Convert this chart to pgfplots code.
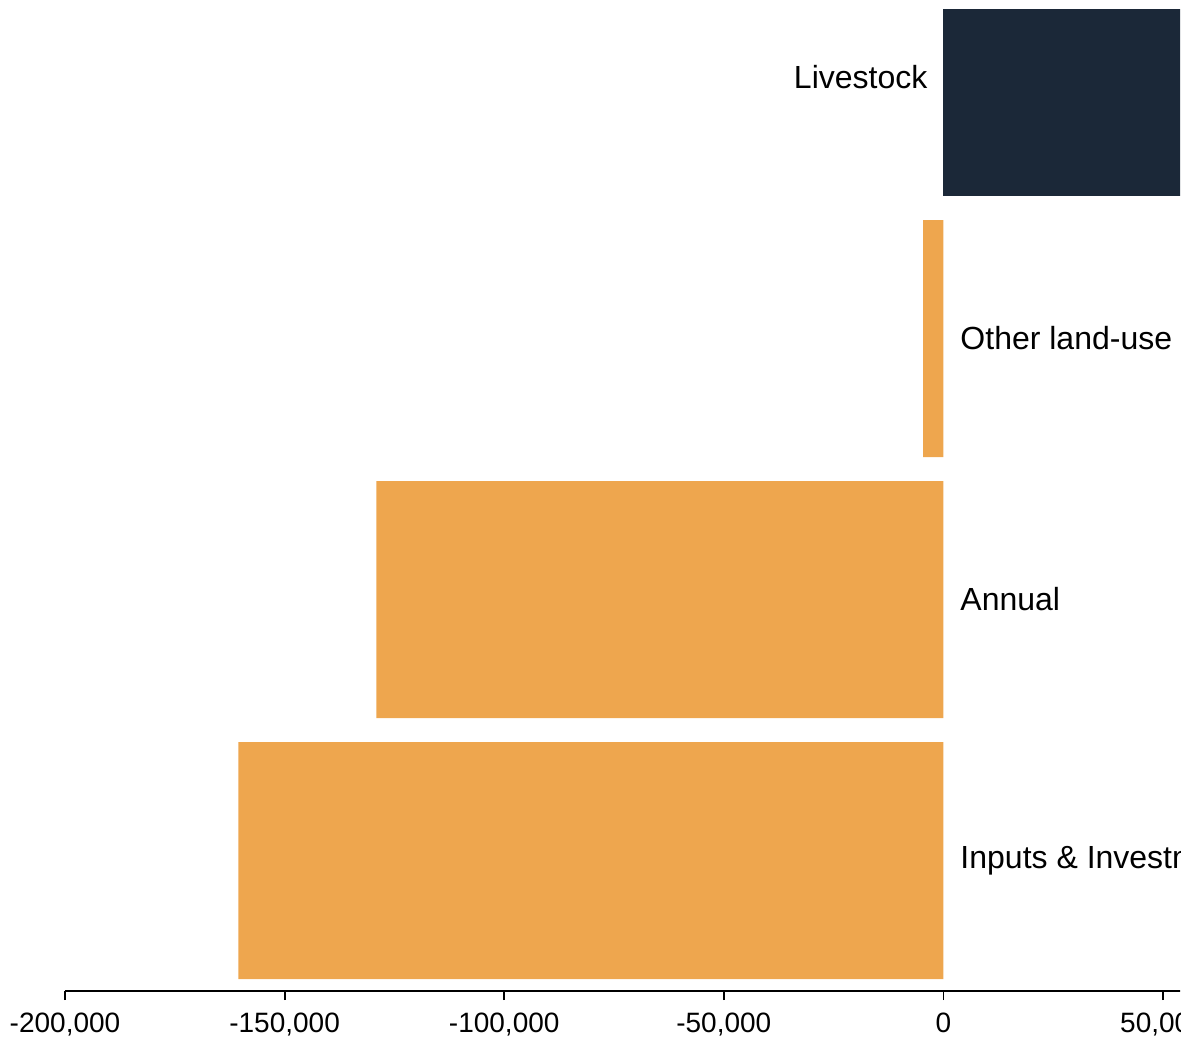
\documentclass[border=0pt]{standalone}
\usepackage{pgfplots}
\pgfplotsset{compat=1.18}
\usepackage{fontspec}
\setmainfont{Liberation Sans}
\definecolor{barorange}{HTML}{EEA64E}
\definecolor{barnavy}{HTML}{1B2838}
\begin{document}
\begin{tikzpicture}
\begin{scope}
\clip (0,0) rectangle (590pt,518pt);
\begin{axis}[
  scale only axis,
  width=570.96pt, height=522pt,
  anchor=south west, at={(32.5pt,27.5pt)},
  xmin=-200000, xmax=60000,
  ymin=-0.5, ymax=3.5,
  axis x line*=bottom,
  axis y line=none,
  axis line style={line width=1pt, black},
  xtick={-200000,-150000,-100000,-50000,0,50000},
  scaled x ticks=false,
  xticklabel style={/pgf/number format/.cd, fixed, 1000 sep={,}, assume math mode=true},
  ticklabel style={font=\fontsize{14}{16}\selectfont},
  tick align=outside,
  major tick length=4.5pt,
  tick style={line width=0.9pt, black},
  xticklabel shift=3pt,
  xbar, bar width=0.908, bar shift=0pt,
  clip=false,
]
\addplot[fill=barorange, draw=none] coordinates {(-160500,0) (-129100,1) (-4600,2)};
\addplot[fill=barnavy, draw=none] coordinates {(56000,3)};
\node[anchor=west, font=\fontsize{16}{19}\selectfont, xshift=5pt] at (axis cs:0,0) {Inputs \& Investment};
\node[anchor=west, font=\fontsize{16}{19}\selectfont, xshift=5pt] at (axis cs:0,1) {Annual};
\node[anchor=west, font=\fontsize{16}{19}\selectfont, xshift=5pt] at (axis cs:0,2) {Other land-use};
\node[anchor=east, font=\fontsize{16}{19}\selectfont, xshift=-4.5pt] at (axis cs:0,3) {Livestock};
\end{axis}
\end{scope}
\pgfresetboundingbox
\useasboundingbox (0,0) rectangle (598.5pt,523pt);
\end{tikzpicture}
\end{document}
